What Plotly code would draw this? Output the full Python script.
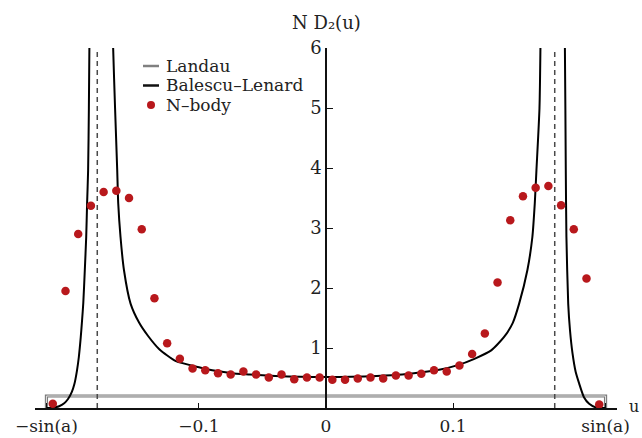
import plotly.graph_objects as go

# ---- data ----
sin_a = 0.22
resonance_u = [-0.18, 0.18]
landau_level = 0.2

tick_vals = [-0.22, -0.1, 0.0, 0.1, 0.22]
tick_text = ["\u2212sin(a)", "\u22120.1", "0", "0.1", "sin(a)"]
y_ticks = [1, 2, 3, 4, 5, 6]

# N-body points
nbody_u = [-0.215, -0.205, -0.195, -0.185, -0.175, -0.165, -0.155, -0.145, -0.135, -0.125,
           -0.115, -0.105, -0.095, -0.085, -0.075, -0.065, -0.055, -0.045, -0.035, -0.025,
           -0.015, -0.005, 0.005, 0.015, 0.025, 0.035, 0.045, 0.055, 0.065, 0.075,
           0.085, 0.095, 0.105, 0.115, 0.125, 0.135, 0.145, 0.155, 0.165, 0.175,
           0.185, 0.195, 0.205, 0.215]
nbody_v = [0.07, 1.95, 2.90, 3.37, 3.60, 3.62, 3.50, 2.98, 1.83, 1.08,
           0.82, 0.66, 0.63, 0.58, 0.56, 0.61, 0.56, 0.51, 0.56, 0.48,
           0.51, 0.51, 0.47, 0.47, 0.49, 0.51, 0.49, 0.54, 0.54, 0.57,
           0.63, 0.61, 0.71, 0.90, 1.24, 2.09, 3.13, 3.53, 3.67, 3.70,
           3.38, 2.98, 2.16, 0.06]

# Balescu-Lenard curve (three branches separated by the divergences)
bl_u = [-0.2200, -0.2150, -0.2100, -0.2060, -0.2030, -0.2000, -0.1980, -0.1960, -0.1945,
        -0.1930, -0.1920, -0.1910, -0.1898, -0.1887, -0.1880, -0.1872, -0.1866, -0.1860,
        None,
        -0.1680, -0.1675, -0.1660, -0.1643, -0.1635, -0.1617, -0.1590, -0.1538, -0.1470,
        -0.1400, -0.1312, -0.1181, -0.1000, -0.0870, -0.0740, -0.0600, -0.0400, -0.0200,
        0.0000, 0.0200, 0.0400, 0.0600, 0.0770, 0.0900, 0.1030, 0.1168, 0.1300, 0.1400,
        0.1470, 0.1520, 0.1585, 0.1624, 0.1643, 0.1656, 0.1680, 0.1690,
        None,
        0.1875, 0.1880, 0.1887, 0.1892, 0.1906, 0.1920, 0.1940, 0.1965, 0.1992, 0.2030,
        0.2071, 0.2124, 0.2200]
bl_v = [0.00, 0.005, 0.03, 0.08, 0.15, 0.27, 0.40, 0.62, 0.85,
        1.18, 1.45, 1.75, 2.30, 2.85, 3.41, 3.96, 5.00, 6.50,
        None,
        6.50, 6.00, 5.00, 3.96, 3.41, 2.85, 2.30, 1.74, 1.42,
        1.20, 0.98, 0.78, 0.68, 0.62, 0.58, 0.56, 0.535, 0.52,
        0.515, 0.52, 0.535, 0.56, 0.60, 0.64, 0.71, 0.82, 0.96, 1.18,
        1.42, 1.74, 2.30, 2.85, 3.41, 3.96, 5.00, 6.50,
        None,
        6.50, 6.00, 3.96, 2.85, 1.74, 1.30, 0.91, 0.60, 0.41, 0.18,
        0.07, 0.01, 0.00]

landau_u = [-sin_a, -sin_a, sin_a, sin_a]
landau_v = [0, landau_level, landau_level, 0]

# ---- figure ----
FONT = "DejaVu Serif"
TXT = "#222"
fig = go.Figure()

fig.add_trace(go.Scatter(x=landau_u, y=landau_v, mode="lines",
                         line=dict(color="#7a7a7a", width=3.2), hoverinfo="skip",
                         showlegend=False, cliponaxis=False))
fig.add_trace(go.Scatter(x=landau_u, y=landau_v, mode="lines",
                         line=dict(color="#e2e2e2", width=1.0), hoverinfo="skip",
                         showlegend=False, cliponaxis=False))

for r in resonance_u:
    fig.add_trace(go.Scatter(x=[r, r], y=[0, 6], mode="lines",
                             line=dict(color="#4a4a4a", width=1.5, dash="5px,4px"),
                             showlegend=False, hoverinfo="skip"))

fig.add_trace(go.Scatter(x=bl_u, y=bl_v, mode="lines", connectgaps=False,
                         line=dict(color="black", width=2, shape="spline", smoothing=0.6),
                         showlegend=False))

fig.add_trace(go.Scatter(x=nbody_u, y=nbody_v, mode="markers",
                         marker=dict(color="#b8181c", size=8.5), showlegend=False,
                         cliponaxis=False))

# ---- layout geometry ----
L, R, T, B = 35, 25, 48, 30
W, H = 642, 438
pw, ph = W - L - R, H - T - B


def px(xp):
    return (xp - L) / pw


def py(yp):
    return (H - B - yp) / ph


fig.update_layout(
    width=W, height=H,
    margin=dict(l=L, r=R, t=T, b=B, pad=0, autoexpand=False),
    plot_bgcolor="white", paper_bgcolor="white",
    font=dict(family=FONT, size=18, color=TXT),
    xaxis=dict(range=[-0.229, 0.229], tickvals=tick_vals, ticktext=tick_text,
               showgrid=False, zeroline=False, showline=True, linecolor="#111",
               linewidth=1.6, ticks="inside", ticklen=5, tickwidth=1.2,
               tickcolor="#111", tickfont=dict(size=17), automargin=False,
               ticklabelstandoff=2),
    yaxis=dict(range=[0, 6], tickvals=y_ticks, showgrid=False, zeroline=False,
               showline=True, linecolor="#111", linewidth=1.6, ticks="inside",
               ticklen=6, tickwidth=1.4, tickcolor="#111", anchor="free",
               position=0.5, tickfont=dict(size=18), automargin=False),
    showlegend=False,
)

annotations = [
    dict(x=0.5, y=py(22), xref="paper", yref="paper", text="N D\u2082(u)",
         showarrow=False, xanchor="center", yanchor="middle", font=dict(size=18)),
    dict(x=px(634), y=py(406), xref="paper", yref="paper", text="u",
         showarrow=False, xanchor="center", yanchor="middle", font=dict(size=16)),
]
leg_rows = [66, 85.5, 105]
leg_text = ["Landau", "Balescu\u2013Lenard", "N\u2013body"]
for txt, yy in zip(leg_text, leg_rows):
    annotations.append(dict(x=px(164), y=py(yy), xref="paper", yref="paper", text=txt,
                            showarrow=False, xanchor="left", yanchor="middle",
                            font=dict(size=17)))
fig.update_layout(annotations=annotations)

shapes = [
    dict(type="line", xref="paper", yref="paper", x0=px(143), x1=px(159),
         y0=py(leg_rows[0]), y1=py(leg_rows[0]), line=dict(color="#808080", width=2.5)),
    dict(type="line", xref="paper", yref="paper", x0=px(143), x1=px(159),
         y0=py(leg_rows[1]), y1=py(leg_rows[1]), line=dict(color="#111", width=2.5)),
    dict(type="circle", xref="paper", yref="paper", x0=px(147), x1=px(155),
         y0=py(leg_rows[2] + 4), y1=py(leg_rows[2] - 4), fillcolor="#b8181c",
         line=dict(width=0)),
]
fig.update_layout(shapes=shapes)

fig.write_html("out.html", config={"displayModeBar": False},
               post_script="document.body.style.margin='0px';document.body.style.overflow='hidden';")
